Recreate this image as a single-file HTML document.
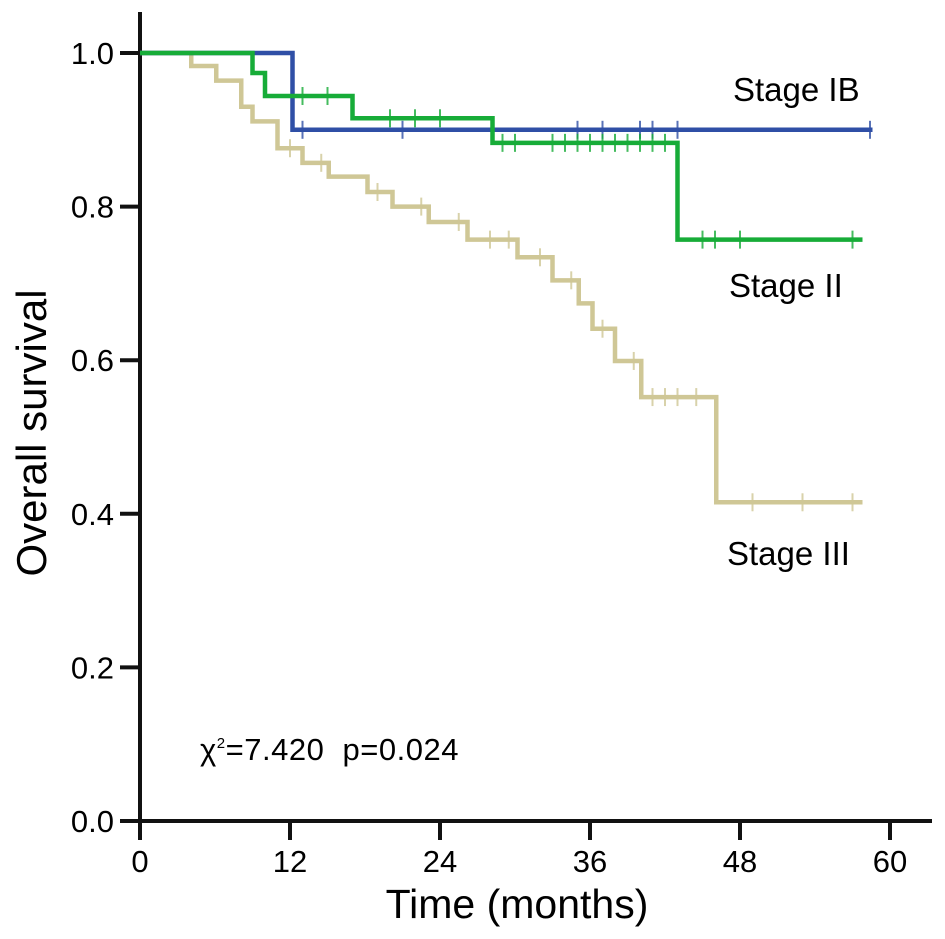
<!DOCTYPE html>
<html><head><meta charset="utf-8"><style>
html,body{margin:0;padding:0;background:#fff;}
svg{display:block;font-family:"Liberation Sans",Arial,sans-serif;}
</style></head><body>
<svg id="chart" width="945" height="939" viewBox="0 0 945 939">
<g id="axes"></g>
<g id="series"></g>
<text x="733" y="101" font-size="33">Stage IB</text>
<text x="729" y="297" font-size="33">Stage II</text>
<text x="727" y="565" font-size="33">Stage III</text>
<text x="200" y="760" font-size="31" style="white-space:pre" letter-spacing="0.5">χ<tspan font-size="15" dy="-12">2</tspan><tspan dy="12">=7.420  p=0.024</tspan></text>
<text x="517" y="918" font-size="41" text-anchor="middle">Time (months)</text>
<text transform="translate(46,433) rotate(-90)" font-size="42" text-anchor="middle">Overall survival</text>
</svg>
<script>
const xTicks = [0, 12, 24, 36, 48, 60];
const yTicks = [0.0, 0.2, 0.4, 0.6, 0.8, 1.0];
const ibTimes = [0, 12.2, 58.6];
const ibSurv = [1.0, 0.90, 0.90];
const ibCensor = [13, 21, 35, 37, 40, 41, 43, 58.4];
const iiTimes = [0, 9, 10, 17, 28.2, 43, 57.8];
const iiSurv = [1.0, 0.974, 0.944, 0.915, 0.883, 0.757, 0.757];
const iiCensor = [13, 15, 20, 22, 24, 29, 30, 33, 34, 35, 36, 37, 38, 39, 40, 41, 42, 45, 46, 48, 57];
const iiiTimes = [0, 4.1, 6.1, 8.1, 9, 11, 13, 15.1, 18.2, 20.2, 23.1, 26.2, 30.2, 33, 35.1, 36.2, 38, 40.1, 46.1, 57.8];
const iiiSurv = [1.0, 0.983, 0.964, 0.930, 0.911, 0.876, 0.857, 0.839, 0.819, 0.800, 0.780, 0.757, 0.734, 0.704, 0.674, 0.641, 0.599, 0.552, 0.415, 0.415];
const iiiCensor = [12, 14.5, 19, 22.5, 25.5, 28, 29.5, 32, 34.5, 37, 39.5, 41, 42, 43, 44.5, 49, 53, 57];

const NS = "http://www.w3.org/2000/svg";
const X0 = 140, PXM = 12.5, Y0 = 821, PXY = 768;
const sx = t => X0 + t * PXM;
const sy = v => Y0 - v * PXY;
function mk(tag, attrs, parent){const e=document.createElementNS(NS,tag);for(const k in attrs)e.setAttribute(k,attrs[k]);parent.appendChild(e);return e;}
const axes = document.getElementById('axes');
let yl = mk('line',{x1:X0,y1:12,x2:X0,y2:Y0+2,stroke:'#111','stroke-width':4},axes);


let xl = mk('line',{x1:X0-2,y1:Y0,x2:932,y2:Y0,stroke:'#111','stroke-width':4},axes);


xTicks.forEach(t=>{
  const l = mk('line',{x1:sx(t),y1:Y0,x2:sx(t),y2:Y0+19,stroke:'#111','stroke-width':4},axes);
  
  
  const tx = mk('text',{x:sx(t),y:872,'font-size':31,'text-anchor':'middle'},axes);
  tx.textContent = t;
  
  
});
yTicks.forEach(v=>{
  const l = mk('line',{x1:X0-20,y1:sy(v),x2:X0,y2:sy(v),stroke:'#111','stroke-width':4},axes);
  
  
  const tx = mk('text',{x:X0-26,y:sy(v)+11,'font-size':31,'text-anchor':'end'},axes);
  tx.textContent = v.toFixed(1);
  
  
});
const series = document.getElementById('series');
function survAt(times, surv, t){let s=surv[0];for(let i=0;i<times.length;i++){if(times[i]<=t)s=surv[i];}return s;}
function drawCurve(times, surv, censor, color, name){
  const g = mk('g',{},series);
  
  
  let d = 'M'+sx(times[0])+','+sy(surv[0]);
  for(let i=1;i<times.length;i++){d+=' H'+sx(times[i])+' V'+sy(surv[i]);}
  const p = mk('path',{d:d,fill:'none',stroke:color,'stroke-width':4.5},g);
  
  
  censor.forEach(t=>{
    const v = survAt(times, surv, t);
    const c = mk('line',{x1:sx(t),y1:sy(v)-9,x2:sx(t),y2:sy(v)+9,stroke:color,'stroke-width':2,opacity:0.8},g);
    
    
  });
}
drawCurve(iiiTimes, iiiSurv, iiiCensor, '#cfc796', 'stage-iii-curve');
drawCurve(ibTimes, ibSurv, ibCensor, '#2f4fa6', 'stage-ib-curve');
drawCurve(iiTimes, iiSurv, iiCensor, '#17ac38', 'stage-ii-curve');
</script>
</body></html>
